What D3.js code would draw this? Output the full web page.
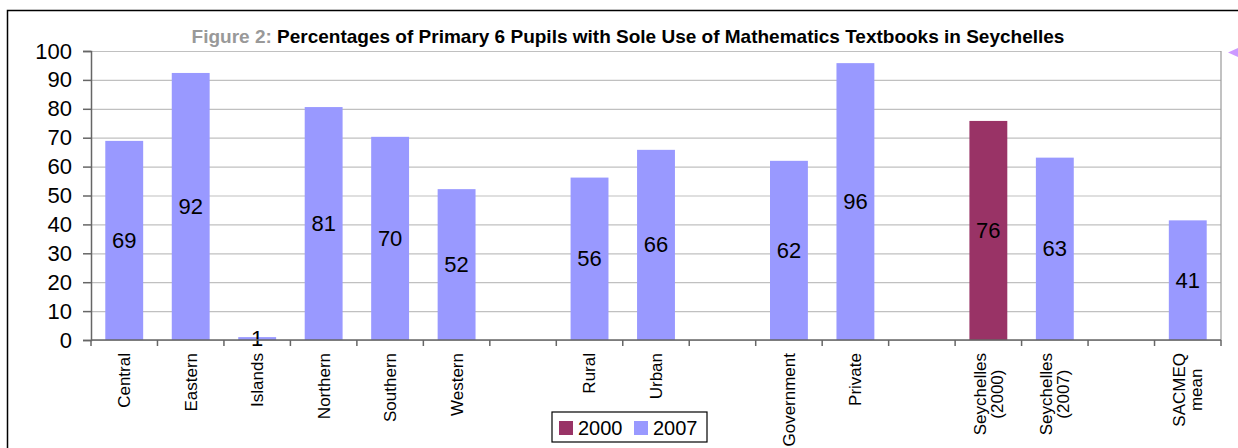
<!DOCTYPE html>
<html>
<head>
<meta charset="utf-8">
<script src="https://cdn.jsdelivr.net/npm/d3@7"></script>
<style>
  body { margin: 0; background: #fff; }
  svg { display: block; font-family: "Liberation Sans", Arial, sans-serif; }
</style>
</head>
<body>
<svg id="chart"></svg>
<script>
// Figure 2: percentages of Primary 6 pupils with sole use of mathematics textbooks

// categorias (vazias = espaços entre grupos)
const categories = ["Central", "Eastern", "Islands", "Northern", "Southern", "Western", "",
  "Rural", "Urban", "", "Government", "Private", "",
  "Seychelles\n(2000)", "Seychelles\n(2007)", "", "SACMEQ\nmean"]

const values2000 = [null, null, null, null, null, null, null,
  null, null, null, null, null, null,
  75.8, null, null, null]

const values2007 = [68.9, 92.4, 1, 80.6, 70.3, 52.2, null,
  56.2, 65.8, null, 62.0, 95.8, null,
  null, 63.1, null, 41.4]

const yTicks = [0, 10, 20, 30, 40, 50, 60, 70, 80, 90, 100]

const seriesNames = ["2000", "2007"]
const seriesColors = ["#993366", "#9999ff"]

const svgWidth = 1238
const svgHeight = 448
const margin = { left: 91, right: 17, top: 51, bottom: 108 }
const plotW = svgWidth - margin.left - margin.right
const plotH = svgHeight - margin.top - margin.bottom

const svg = d3.select("#chart")
  .attr("width", svgWidth)
  .attr("height", svgHeight)

// moldura exterior
svg.append("path")
  .attr("d", `M7.5,${svgHeight} V10.5 H${svgWidth}`)
  .attr("fill", "none")
  .attr("stroke", "#000")
  .attr("stroke-width", 1.5)

// triângulo lilás do lado direito
svg.append("path")
  .attr("d", "M1228,52.5 L1238,48 L1238,57 Z")
  .attr("fill", "#cc99ff")

// título
const title = svg.append("text")
  .attr("x", 628)
  .attr("y", 43)
  .attr("text-anchor", "middle")
  .style("font-size", "19px")
  .style("font-weight", "bold")
title.append("tspan").attr("fill", "#999").text("Figure 2: ")
title.append("tspan").attr("fill", "#000")
  .text("Percentages of Primary 6 Pupils with Sole Use of Mathematics Textbooks in Seychelles")

const g = svg.append("g").attr("transform", `translate(${margin.left},${margin.top})`)

const x = d3.scaleBand()
  .domain(d3.range(categories.length))
  .range([0, plotW])

const y = d3.scaleLinear()
  .domain([0, 100])
  .range([plotH, 0])

// grelha
g.append("g")
  .call(d3.axisLeft(y).tickValues(yTicks).tickSize(-plotW).tickFormat(""))
  .call(a => a.select(".domain").remove())
  .call(a => a.selectAll("line").attr("stroke", "#c0c0c0").attr("stroke-width", 1.2))

// borda direita
g.append("line")
  .attr("x1", plotW).attr("x2", plotW)
  .attr("y1", 0).attr("y2", plotH)
  .attr("stroke", "#999").attr("stroke-width", 1.2)

// barras
const barW = x.bandwidth() * 0.57
const series = [values2000, values2007]

series.forEach((vals, s) => {
  const data = vals.map((v, i) => ({ i, v })).filter(d => d.v != null)

  g.selectAll(null)
    .data(data)
    .enter()
    .append("rect")
    .attr("x", d => x(d.i) + (x.bandwidth() - barW) / 2)
    .attr("y", d => y(d.v))
    .attr("width", barW)
    .attr("height", d => y(0) - y(d.v))
    .attr("fill", seriesColors[s])

  g.selectAll(null)
    .data(data)
    .enter()
    .append("text")
    .attr("x", d => x(d.i) + x.bandwidth() / 2)
    .attr("y", d => y(d.v / 2))
    .attr("text-anchor", "middle")
    .attr("dominant-baseline", "central")
    .style("font-size", "22px")
    .attr("fill", "#000")
    .text(d => Math.round(d.v))
})

// eixo y
g.append("g")
  .call(d3.axisLeft(y).tickValues(yTicks).tickSize(8).tickPadding(11))
  .call(a => a.select(".domain").attr("stroke", "#666").attr("stroke-width", 1.5))
  .call(a => a.selectAll("line").attr("stroke", "#666").attr("stroke-width", 1.5))
  .call(a => a.selectAll("text").style("font-size", "22px").attr("fill", "#000")
    .style("font-family", "'Liberation Sans', Arial, sans-serif"))

// eixo x: linha base e marcas nas fronteiras das categorias
g.append("line")
  .attr("x1", 0).attr("x2", plotW)
  .attr("y1", plotH).attr("y2", plotH)
  .attr("stroke", "#666").attr("stroke-width", 1.5)

g.selectAll(null)
  .data(d3.range(categories.length + 1))
  .enter()
  .append("line")
  .attr("x1", i => i * x.step())
  .attr("x2", i => i * x.step())
  .attr("y1", plotH)
  .attr("y2", plotH + 6)
  .attr("stroke", "#666").attr("stroke-width", 1.5)

// rótulos das categorias (rodados, linhas centradas entre si)
const lineH = 17
g.selectAll(null)
  .data(categories.map((c, i) => ({ c, i })).filter(d => d.c !== ""))
  .enter()
  .append("text")
  .attr("transform", d => {
    const lines = d.c.split("\n").length
    const cx = x(d.i) + x.bandwidth() / 2 - (lines - 1) * lineH / 2
    return `translate(${cx},${plotH + 13}) rotate(-90)`
  })
  .attr("text-anchor", "middle")
  .style("font-size", "17px")
  .each(function (d) {
    const t = d3.select(this)
    const spans = d.c.split("\n").map((line, k) =>
      t.append("tspan")
        .attr("dy", k === 0 ? "0.35em" : lineH)
        .text(line))
    const maxLen = d3.max(spans, sp => sp.node().getComputedTextLength())
    spans.forEach(sp => sp.attr("x", -maxLen / 2))
  })

// legenda
const legend = svg.append("g").attr("transform", "translate(552,412)")
legend.append("rect")
  .attr("width", 155).attr("height", 30)
  .attr("fill", "#fff").attr("stroke", "#000").attr("stroke-width", 1.2)

const legendX = [7, 82]
seriesNames.forEach((name, s) => {
  legend.append("rect")
    .attr("x", legendX[s]).attr("y", 9)
    .attr("width", 14).attr("height", 14)
    .attr("fill", seriesColors[s])
  legend.append("text")
    .attr("x", legendX[s] + 19).attr("y", 16)
    .attr("dominant-baseline", "central")
    .style("font-size", "20px")
    .text(name)
})
</script>
</body>
</html>
